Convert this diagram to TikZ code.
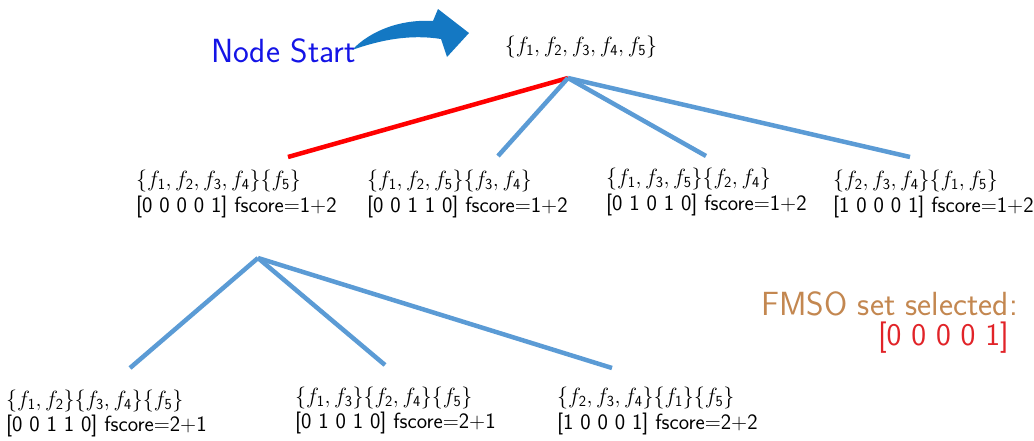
\RequirePackage{fix-cm}
\documentclass[tikz,border=0pt]{standalone}
\usepackage{fontspec}
\setsansfont{Latin Modern Sans}
\definecolor{lineblue}{RGB}{91,155,213}
\definecolor{arrowblue}{RGB}{20,120,195}
\definecolor{startblue}{RGB}{20,20,230}
\definecolor{fmso}{RGB}{195,135,80}
\definecolor{selred}{RGB}{225,35,40}
\newcommand\ff[1]{f_{\mathsf{#1}}}
\tikzset{
  edge/.style={line width=4.5pt, draw=lineblue},
  redge/.style={line width=4.5pt, draw=red},
  lbl/.style={font=\fontsize{22}{26}\selectfont\sffamily, inner sep=0pt, anchor=base west},
  big/.style={font=\fontsize{32}{36}\selectfont\sffamily, inner sep=0pt, anchor=base east},
}
\begin{document}
\begin{tikzpicture}[x=1pt,y=-1pt]
\useasboundingbox (0,0) rectangle (1034,440);
% start arrow
\fill[arrowblue] (352,50) .. controls (370,31) and (400,19) .. (433,21) -- (438,9) -- (469,33) -- (447,57) -- (441,39) .. controls (410,34) and (380,40) .. (352,50) -- cycle;
\node[big, font=\fontsize{33.5}{38}\selectfont\sffamily, text=startblue] (start) at (356,62) {Node Start};
% root
\node[lbl, anchor=base] (root) at (581,52) {$\{\ff1, \ff2, \ff3, \ff4, \ff5\}$};
\coordinate (r) at (568,78);
\coordinate (a1) at (288,157);
\coordinate (a2) at (498,156);
\coordinate (a3) at (706,156);
\coordinate (a4) at (910,157);
\draw[redge] (r) -- (a1);
\draw[edge] (r) -- (a2);
\draw[edge] (r) -- (a3);
\draw[edge] (r) -- (a4);
\node[lbl] (n1a) at (136,186) {$\{\ff1, \ff2, \ff3, \ff4\}\{\ff5\}$};
\node[lbl] (n1b) at (136,212) {[0 0 0 0 1] fscore=1+2};
\node[lbl] (n2a) at (367,186) {$\{\ff1, \ff2, \ff5\}\{\ff3, \ff4\}$};
\node[lbl] (n2b) at (367,212) {[0 0 1 1 0] fscore=1+2};
\node[lbl] (n3a) at (606,184) {$\{\ff1, \ff3, \ff5\}\{\ff2, \ff4\}$};
\node[lbl] (n3b) at (606,210) {[0 1 0 1 0] fscore=1+2};
\node[lbl] (n4a) at (833,186) {$\{\ff2, \ff3, \ff4\}\{\ff1, \ff5\}$};
\node[lbl] (n4b) at (833,212) {[1 0 0 0 1] fscore=1+2};
% second level
\coordinate (s) at (258,258);
\coordinate (b1) at (130,368);
\coordinate (b2) at (385,365);
\coordinate (b3) at (612,368);
\draw[edge] (s) -- (b1);
\draw[edge] (s) -- (b2);
\draw[edge] (s) -- (b3);
\node[lbl] (m1a) at (6,406) {$\{\ff1, \ff2\}\{\ff3, \ff4\}\{\ff5\}$};
\node[lbl] (m1b) at (6,431) {[0 0 1 1 0] fscore=2+1};
\node[lbl] (m2a) at (295,403) {$\{\ff1, \ff3\}\{\ff2, \ff4\}\{\ff5\}$};
\node[lbl] (m2b) at (295,428) {[0 1 0 1 0] fscore=2+1};
\node[lbl] (m3a) at (557,403) {$\{\ff2, \ff3, \ff4\}\{\ff1\}\{\ff5\}$};
\node[lbl] (m3b) at (557,429) {[1 0 0 0 1] fscore=2+2};
% FMSO
\node[big, font=\fontsize{33.5}{38}\selectfont\sffamily, text=fmso] (fmso) at (1018,315) {FMSO set selected:};
\node[big, font=\fontsize{31.5}{36}\selectfont\sffamily, text=selred] (sel) at (1009,345) {[0 0 0 0 1]};
\end{tikzpicture}
\end{document}
